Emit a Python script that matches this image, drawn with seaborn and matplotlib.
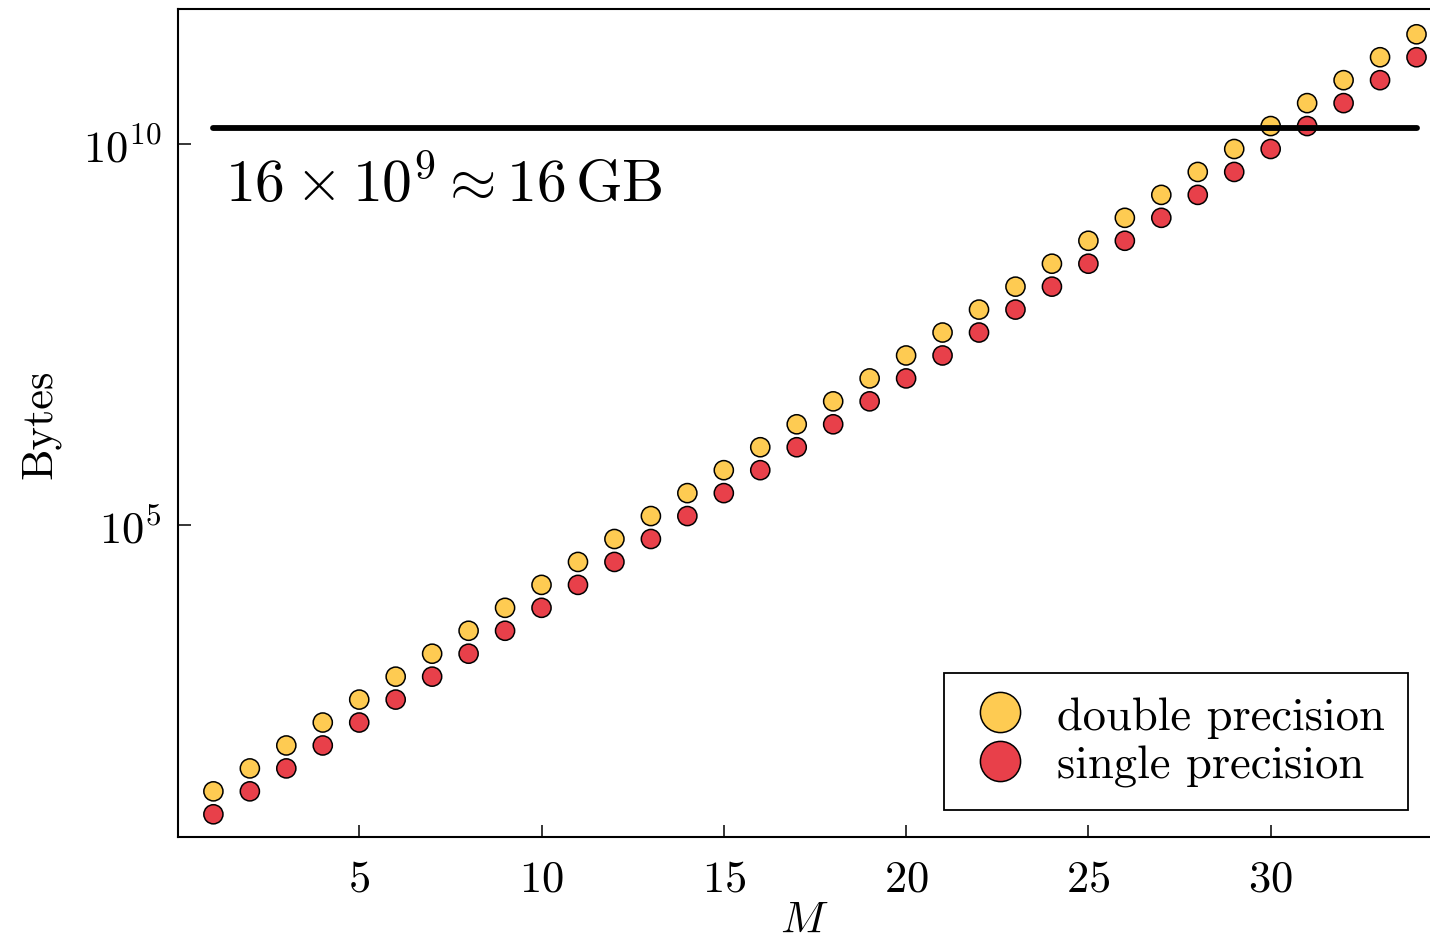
import numpy as np
import pandas as pd
import matplotlib
matplotlib.use("Agg")
import matplotlib.pyplot as plt
import seaborn as sns

# Memory needed to store a state vector of M qubits
M = list(range(1, 35))
double_bytes = [
    32, 64, 128, 256, 512, 1024, 2048, 4096, 8192, 16384,
    32768, 65536, 131072, 262144, 524288, 1048576, 2097152, 4194304,
    8388608, 16777216, 33554432, 67108864, 134217728, 268435456,
    536870912, 1073741824, 2147483648, 4294967296, 8589934592,
    17179869184, 34359738368, 68719476736, 137438953472, 274877906944,
]
single_bytes = [
    16, 32, 64, 128, 256, 512, 1024, 2048, 4096, 8192,
    16384, 32768, 65536, 131072, 262144, 524288, 1048576, 2097152,
    4194304, 8388608, 16777216, 33554432, 67108864, 134217728,
    268435456, 536870912, 1073741824, 2147483648, 4294967296,
    8589934592, 17179869184, 34359738368, 68719476736, 137438953472,
]
labels = ["double precision", "single precision"]
limit_bytes = 16e9
limit_M = [1, 34]
x_ticks = [5, 10, 15, 20, 25, 30]
y_ticks = [1e5, 1e10]

sns.set_style("ticks")
plt.rcParams["font.family"] = ["cmr10", "DejaVu Serif"]
plt.rcParams["mathtext.fontset"] = "cm"
plt.rcParams["axes.unicode_minus"] = False
plt.rcParams["axes.formatter.use_mathtext"] = True
for key in ["text.color", "axes.labelcolor", "xtick.color", "ytick.color",
            "axes.edgecolor"]:
    plt.rcParams[key] = "black"

df = pd.DataFrame({
    "M": M * 2,
    "Bytes": double_bytes + single_bytes,
    "precision": [labels[0]] * len(M) + [labels[1]] * len(M),
})

fig = plt.figure(figsize=(14.3, 9.45), dpi=100)
ax = fig.add_axes([0.1245, 0.1132, 0.8755, 0.8762])

sns.scatterplot(
    data=df, x="M", y="Bytes", hue="precision", hue_order=labels,
    palette=["#fecb52", "#e8404a"], s=190, edgecolor="black",
    linewidth=1.1, ax=ax, zorder=3, clip_on=False,
)
ax.plot(limit_M, [limit_bytes] * 2, color="black", lw=4.2,
        solid_capstyle="round", zorder=4)

ax.set_yscale("log")
ax.set_xlim(0.03, 34.37)
ax.set_ylim(8.05, 5.9e11)
ax.set_xticks(x_ticks)
ax.set_yticks(y_ticks)
ax.minorticks_off()
ax.tick_params(direction="in", length=9, width=1.1, labelsize=32)
ax.tick_params(axis="x", pad=16)
ax.tick_params(axis="y", pad=12)

ax.text(0.0375, 0.767, r"$16\times10^9\approx16\,\mathrm{GB}$",
        transform=ax.transAxes, fontsize=43, va="baseline", ha="left")

ax.set_xlabel(r"$M$", fontsize=32, labelpad=1)
ax.set_ylabel("Bytes", fontsize=32, labelpad=16)

for side in ["left", "bottom", "top"]:
    ax.spines[side].set_linewidth(1.5)
ax.spines["right"].set_visible(False)

leg = ax.legend(
    loc="lower right", bbox_to_anchor=(0.9824, 0.0326), borderaxespad=0,
    fontsize=33.5, markerscale=2.1, frameon=True, fancybox=False,
    framealpha=1, edgecolor="black", labelspacing=0.15, handlelength=1.4,
    handletextpad=0.52, borderpad=0.5, title=None,
)
leg.get_frame().set_linewidth(1.3)

fig.savefig("out.png", dpi=100)
